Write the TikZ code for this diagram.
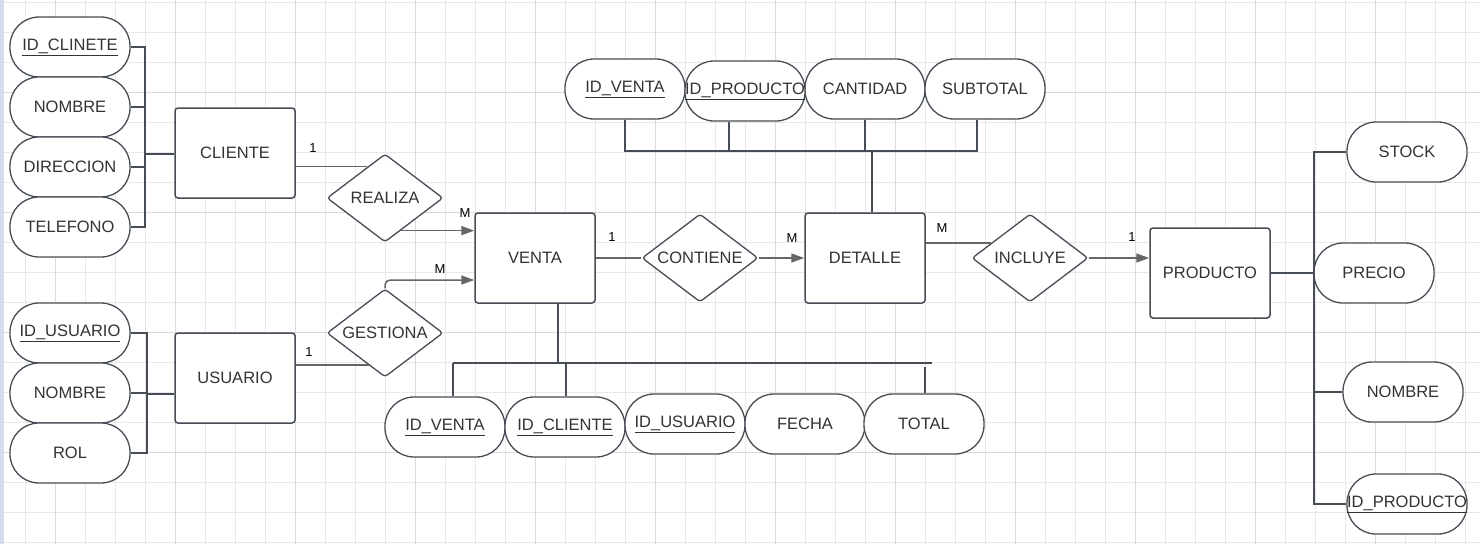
\documentclass[tikz,border=0pt]{standalone}
\usepackage{fontspec}
\setmainfont{Liberation Sans}
\usetikzlibrary{shapes.geometric,arrows.meta,calc}
\definecolor{gridminor}{HTML}{E8E8E8}
\definecolor{gridmajor}{HTML}{DADADA}
\definecolor{edgec}{HTML}{474D56}
\definecolor{arrowc}{HTML}{666666}
\definecolor{txt}{HTML}{333333}
\definecolor{stripc}{HTML}{D3DDEE}
\begin{document}
\begin{tikzpicture}[x=1pt,y=-1pt,
  every node/.style={font=\fontsize{16.5}{18}\selectfont, text=txt},
  attr/.style={draw=edgec, line width=1.3pt, fill=white, rounded corners=29pt, minimum width=120pt, minimum height=60pt, inner sep=0pt},
  ent/.style={draw=edgec, line width=1.5pt, fill=white, rounded corners=3pt, minimum width=120pt, minimum height=90pt, inner sep=0pt},
  rel/.style={diamond, draw=edgec, line width=1.3pt, fill=white, rounded corners=3pt, minimum width=116pt, minimum height=88pt, inner sep=0pt, shape aspect=1.32},
  link/.style={draw=edgec, line width=1.3pt},
  conn/.style={draw=arrowc, line width=1.5pt},
  arr/.style={conn, -{Triangle[length=13pt,width=9pt]}},
  card/.style={font=\fontsize{13}{14}\selectfont, text=black, inner sep=0pt},
]
\useasboundingbox (0,0) rectangle (1480,544);
\fill[white] (0,0) rectangle (1480,544);
\foreach \x in {25,55,...,1475} \draw[gridminor, line width=1pt] (\x,0) -- (\x,544);
\foreach \y in {2,32,...,542} \draw[gridminor, line width=1pt] (0,\y) -- (1480,\y);
\foreach \x in {55,175,...,1455} \draw[gridmajor, line width=1pt] (\x,0) -- (\x,544);
\foreach \y in {92,212,...,452} \draw[gridmajor, line width=1pt] (0,\y) -- (1480,\y);
\fill[stripc] (0,0) rectangle (4,544);

% CLIENTE
\node[attr] (c1) at (70,47) {\underline{ID\_CLINETE}};
\node[attr] (c2) at (70,107) {NOMBRE};
\node[attr] (c3) at (70,167) {DIRECCION};
\node[attr] (c4) at (70,227) {TELEFONO};
\node[ent] (cliente) at (235,153) {CLIENTE};
% USUARIO
\node[attr] (u1) at (70,333) {\underline{ID\_USUARIO}};
\node[attr] (u2) at (70,393) {NOMBRE};
\node[attr] (u3) at (70,453) {ROL};
\node[ent] (usuario) at (235,378) {USUARIO};
% relations and entities
\node[rel] (realiza) at (385,198) {REALIZA};
\node[rel] (gestiona) at (385,333) {GESTIONA};
\node[ent] (venta) at (535,258) {VENTA};
\node[rel] (contiene) at (700,258) {CONTIENE};
\node[ent] (detalle) at (865,258) {DETALLE};
\node[rel] (incluye) at (1030,258) {INCLUYE};
\node[ent] (producto) at (1210,273) {PRODUCTO};
% DETALLE attributes
\node[attr] (d1) at (625,89) {\underline{ID\_VENTA}};
\node[attr] (d3) at (865,89) {CANTIDAD};
\node[attr] (d4) at (985,89) {SUBTOTAL};
\node[attr] (d2) at (745,91) {\underline{ID\_PRODUCTO}};
% VENTA attributes
\node[attr] (v1) at (445,427) {\underline{ID\_VENTA}};
\node[attr] (v2) at (565,427) {\underline{ID\_CLIENTE}};
\node[attr] (v3) at (685,424) {\underline{ID\_USUARIO}};
\node[attr] (v4) at (805,424) {FECHA};
\node[attr] (v5) at (924,424) {TOTAL};
% PRODUCTO attributes
\node[attr] (p1) at (1407,152) {STOCK};
\node[attr] (p2) at (1374,273) {PRECIO};
\node[attr] (p3) at (1403,392) {NOMBRE};
\node[attr] (p4) at (1407,504) {\underline{ID\_PRODUCTO}};

% cardinalities
\node[card] (k1) at (313,148) {1};
\node[card] (k2) at (465,213) {M};
\node[card] (k3) at (309,352) {1};
\node[card] (k4) at (440,269) {M};
\node[card] (k5) at (612,237) {1};
\node[card] (k6) at (792,238) {M};
\node[card] (k7) at (942,228) {M};
\node[card] (k8) at (1132,237) {1};

% CLIENTE bracket
\coordinate (bc) at (145,154);
\foreach \n in {c1,c2,c3,c4} \draw[link] (\n.east) -| (bc);
\draw[link] (bc) -- (cliente.west |- bc);
% USUARIO bracket
\coordinate (bu) at (147,394);
\foreach \n in {u1,u2,u3} \draw[link] (\n.east) -| (bu);
\draw[link] (bu) -- (usuario.west |- bu);

% relationship connectors
\path ($(realiza.west)!0.7!(realiza.north)$) coordinate (r1);
\draw[conn] (cliente.east |- r1) -- (r1);
\path ($(realiza.south)!0.27!(realiza.east)$) coordinate (r2);
\draw[arr] (r2) -- (venta.west |- r2);
\path ($(gestiona.west)!0.72!(gestiona.south)$) coordinate (g1);
\draw[conn] (usuario.east |- g1) -- (g1);
\coordinate (gy) at (0,280);
\draw[arr, rounded corners=5pt] (gestiona.north) |- (venta.west |- gy);
\draw[conn] (venta.east) -- (contiene.west);
\draw[arr] (contiene.east) -- (detalle.west);
\path ($(incluye.west)!0.34!(incluye.north)$) coordinate (i1);
\draw[conn] (detalle.east |- i1) -- (i1);
\draw[arr] (incluye.east) -- (producto.west |- incluye.east);

% PRODUCTO bracket
\coordinate (bp) at (1314,273);
\draw[link] (producto.east) -- (p2.west);
\draw[link] (p1.west) -| (bp);
\draw[link] (p3.west) -| (bp);
\draw[link] (p4.west) -| (bp);

% DETALLE bracket
\coordinate (bd) at (872,151);
\coordinate (d2x) at (729,0);
\coordinate (d4x) at (977,0);
\draw[link] (d1.south) |- (bd);
\draw[link] (d2.south -| d2x) |- (bd);
\draw[link] (d3.south) |- (bd);
\draw[link] (d4.south -| d4x) |- (bd);
\draw[link] (bd) -- (detalle.north -| bd);

% VENTA bracket
\coordinate (bv) at (558,363);
\coordinate (bvl) at (453,363);
\coordinate (bvr) at (932,363);
\coordinate (v2x) at (566,363);
\coordinate (v5x) at (925,367);
\draw[link] (venta.south -| bv) -- (bv);
\draw[link] (bvl) -- (bvr);
\draw[link] (v1.north -| bvl) -- (bvl);
\draw[link] (v2.north -| v2x) -- (v2x);
\draw[link] (v5.north -| v5x) -- (v5x);
\end{tikzpicture}
\end{document}
